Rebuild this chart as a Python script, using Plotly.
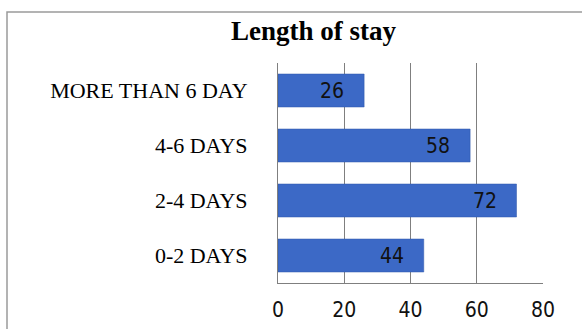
import plotly.graph_objects as go

categories = ["0-2 DAYS", "2-4 DAYS", "4-6 DAYS", "MORE THAN 6 DAY"]
values = [44, 72, 58, 26]
x_ticks = [0, 20, 40, 60, 80]

W, H = 582, 329
L, R, T, B = 278, 39, 63, 46
pw, ph = W - L - R, H - T - B

def px_x(p):
    return (p - L) / pw

def px_y(p):
    return (H - B - p) / ph

NARROW = "DejaVu Sans Condensed, Liberation Sans Narrow, Liberation Sans"

fig = go.Figure()
fig.add_trace(go.Bar(
    y=categories, x=values, orientation="h",
    marker=dict(color="#3c69c6", line=dict(color="#2f57a8", width=0.5)),
    width=0.6, hoverinfo="skip",
))

for c, v in zip(categories, values):
    fig.add_annotation(x=v, y=c, text=str(v), showarrow=False, xanchor="right",
                       xshift=-18, font=dict(family=NARROW, size=21, color="#111"))

fig.add_shape(type="rect", xref="paper", yref="paper",
              x0=px_x(7), x1=px_x(600), y0=px_y(350), y1=px_y(12),
              line=dict(color="#9a9a9a", width=1.5), fillcolor="rgba(0,0,0,0)", layer="below")

fig.add_annotation(xref="paper", yref="paper", x=px_x(314), y=px_y(31), text="<b>Length of stay</b>",
                   showarrow=False, xanchor="center", yanchor="middle",
                   font=dict(family="Liberation Serif", size=27, color="#000"))

fig.update_layout(
    width=W, height=H, margin=dict(l=L, r=R, t=T, b=B, autoexpand=False),
    paper_bgcolor="white", plot_bgcolor="white", showlegend=False, bargap=0.4,
    xaxis=dict(range=[0, 80], tickvals=x_ticks, ticktext=[str(t) for t in x_ticks],
               showgrid=True, gridcolor="#7f7f7f", gridwidth=1, zeroline=False, automargin=False,
               showline=True, linecolor="#7f7f7f", linewidth=1, ticks="", ticklabelstandoff=8,
               tickfont=dict(family=NARROW, size=21, color="#111"), fixedrange=True),
    yaxis=dict(showgrid=False, zeroline=False, showline=True, linecolor="#7f7f7f", linewidth=1,
               ticks="", ticklabelstandoff=25, automargin=False,
               tickfont=dict(family="Liberation Serif", size=22, color="#000"), fixedrange=True),
)

fig.write_html("out.html")
